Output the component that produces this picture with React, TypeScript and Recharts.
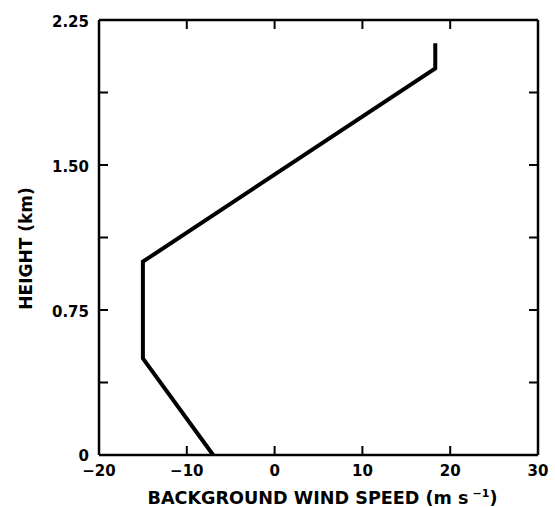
import { LineChart, Line, XAxis, YAxis, Label } from 'recharts';

// wind speed (m/s) vs height (km)
const windSpeed = [-7, -15, -15, 18.3, 18.3];
const heightKm = [0, 0.5, 1.0, 2.0, 2.13];

const xTicks = [-20, -10, 0, 10, 20, 30];
const yTicks = [0, 0.375, 0.75, 1.125, 1.5, 1.875, 2.25];
const yLabels: Record<string, string> = { '0': '0', '0.75': '0.75', '1.5': '1.50', '2.25': '2.25' };

const data = windSpeed.map((s, i) => ({ speed: s, height: heightKm[i] }));

const FONT = '"DejaVu Sans", sans-serif';
const TICK = 9;

const BottomTick = ({ x, y, payload }: any) => (
  <g>
    <line x1={x} y1={y} x2={x} y2={y - TICK} stroke="#000" strokeWidth={2} />
    <text x={x} y={y + 21} textAnchor="middle" fontFamily={FONT} fontWeight="bold" fontSize={15} fill="#000">
      {payload.value < 0 ? '\u2212' + Math.abs(payload.value) : payload.value}
    </text>
  </g>
);

const LeftTick = ({ x, y, payload }: any) => {
  const lab = yLabels[String(payload.value)];
  return (
    <g>
      <line x1={x} y1={y} x2={x + TICK} y2={y} stroke="#000" strokeWidth={2} />
      {lab && (
        <text x={x - 10} y={y + (payload.value === 0 ? 6 : 7)} textAnchor="end" fontFamily={FONT} fontWeight="bold" fontSize={15} fill="#000">
          {lab}
        </text>
      )}
    </g>
  );
};

const TopTick = ({ x, y }: any) => (
  <line x1={x} y1={y} x2={x} y2={y + TICK} stroke="#000" strokeWidth={2} />
);

const RightTick = ({ x, y }: any) => (
  <line x1={x} y1={y} x2={x - TICK} y2={y} stroke="#000" strokeWidth={2} />
);

const XTitle = ({ viewBox }: any) => {
  const cx = viewBox.x + viewBox.width / 2;
  return (
    <text x={cx + 4} y={viewBox.y + 49} textAnchor="middle" fontFamily={FONT} fontWeight="bold" fontSize={17.6} fill="#000">
      BACKGROUND WIND SPEED (m s
      <tspan fontSize={11} dx={4} dy={-7}>{'\u22121'}</tspan>
      <tspan dy={7}>)</tspan>
    </text>
  );
};

const YTitle = ({ viewBox }: any) => {
  const tx = 32;
  const ty = viewBox.y + viewBox.height / 2 + 11;
  return (
    <text x={tx} y={ty} transform={`rotate(-90, ${tx}, ${ty})`} textAnchor="middle" fontFamily={FONT} fontWeight="bold" fontSize={17} fill="#000">
      HEIGHT (km)
    </text>
  );
};

export default function App() {
  return (
    <div style={{ position: 'absolute', left: 0, top: 0, background: '#fff' }}>
      <LineChart width={555} height={507} data={data} margin={{ top: 0, right: 0, bottom: 0, left: 0 }}>
        <XAxis
          xAxisId="b"
          dataKey="speed"
          type="number"
          domain={[-20, 30]}
          ticks={xTicks}
          interval={0}
          height={52}
          tickSize={0}
          tickMargin={0}
          tickLine={false}
          tick={<BottomTick />}
          axisLine={{ stroke: '#000', strokeWidth: 2.5 }}
        >
          <Label content={<XTitle />} />
        </XAxis>
        <XAxis
          xAxisId="t"
          orientation="top"
          dataKey="speed"
          type="number"
          domain={[-20, 30]}
          ticks={xTicks}
          interval={0}
          height={20}
          tickSize={0}
          tickMargin={0}
          tickLine={false}
          tick={<TopTick />}
          axisLine={{ stroke: '#000', strokeWidth: 2.5 }}
        />
        <YAxis
          yAxisId="l"
          dataKey="height"
          type="number"
          domain={[0, 2.25]}
          ticks={yTicks}
          interval={0}
          width={99}
          tickSize={0}
          tickMargin={0}
          tickLine={false}
          tick={<LeftTick />}
          axisLine={{ stroke: '#000', strokeWidth: 2.5 }}
        >
          <Label content={<YTitle />} />
        </YAxis>
        <YAxis
          yAxisId="r"
          orientation="right"
          dataKey="height"
          type="number"
          domain={[0, 2.25]}
          ticks={yTicks}
          interval={0}
          width={17}
          tickSize={0}
          tickMargin={0}
          tickLine={false}
          tick={<RightTick />}
          axisLine={{ stroke: '#000', strokeWidth: 2.5 }}
        />
        <Line
          xAxisId="b"
          yAxisId="l"
          dataKey="height"
          type="linear"
          stroke="#000"
          strokeWidth={4}
          dot={false}
          strokeLinejoin="miter"
          isAnimationActive={false}
        />
      </LineChart>
    </div>
  );
}
